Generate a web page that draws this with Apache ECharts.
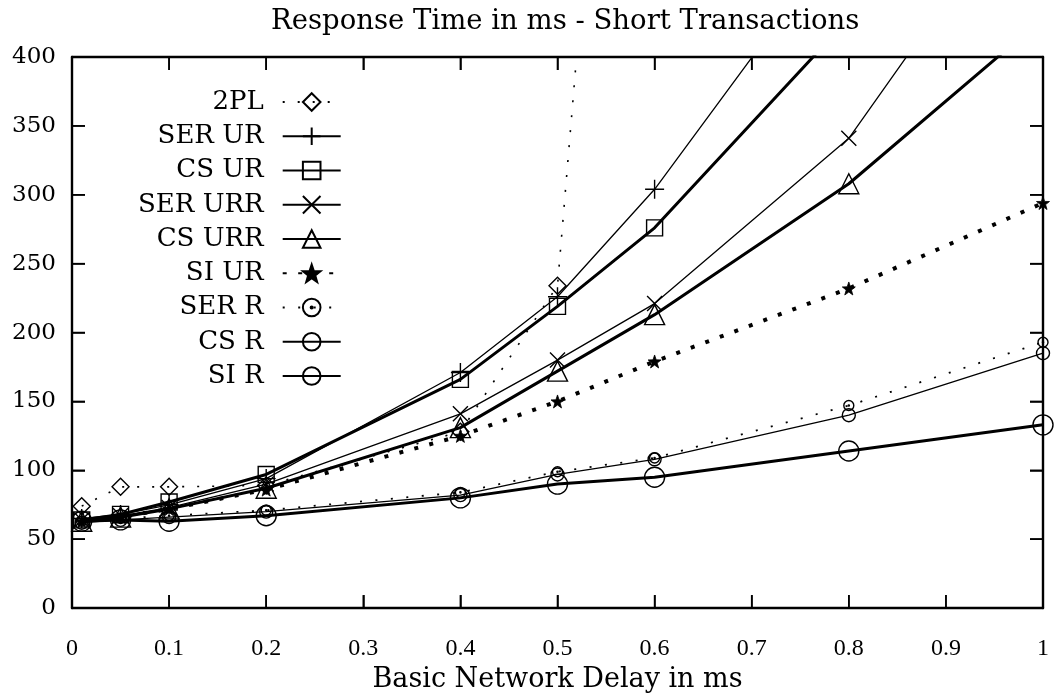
<!DOCTYPE html>
<html>
<head>
<meta charset="utf-8">
<script src="https://cdn.jsdelivr.net/npm/echarts@6/dist/echarts.min.js"></script>
<style>
html,body{margin:0;padding:0;background:#fff;}
#chart{width:1054px;height:698px;}
</style>
</head>
<body>
<div id="chart"></div>
<script>
// Network delay (ms) at which each configuration was measured
const delays = [0.01, 0.05, 0.1, 0.2, 0.4, 0.5, 0.6, 0.8, 1.0];

// Response time in ms, per protocol (values beyond 400 leave the plot)
const v2PL    = [74, 88, 88, 89, 128, 234, 1080];
const vSerUR  = [65, 68, 75, 94, 171, 226, 304, 495];
const vCsUR   = [64, 68, 77, 97, 166, 219, 276, 428];
const vSerURR = [64, 67, 73, 90, 141, 180, 221, 341, 540];
const vCsURR  = [63, 66, 72, 87, 131, 172, 213, 308, 428];
const vSiUR   = [63, 66, 72, 86, 125, 150, 179, 232, 294];
const vSerR   = [63, 65, 67, 71, 84, 99, 109, 147, 193];
const vCsR    = [62, 64, 66, 70, 82, 97, 108, 140, 185];
const vSiR    = [63, 64, 63, 67, 80, 90, 95, 114, 133];

const seriesNames = ['2PL', 'SER UR', 'CS UR', 'SER URR', 'CS URR', 'SI UR', 'SER R', 'CS R', 'SI R'];
const seriesValues = [v2PL, vSerUR, vCsUR, vSerURR, vCsURR, vSiUR, vSerR, vCsR, vSiR];

// Tick values
const xTicks = [0, 0.1, 0.2, 0.3, 0.4, 0.5, 0.6, 0.7, 0.8, 0.9, 1];
const yTicks = [0, 50, 100, 150, 200, 250, 300, 350, 400];

const SERIF = 'Liberation Serif';
const WIDE = 'DejaVu Serif';

const SYM = {
  diamond: 'path://M0,-1L1,0L0,1L-1,0Z',
  plus: 'path://M0,-1L0,1M-1,0L1,0',
  square: 'path://M-1,-1L1,-1L1,1L-1,1Z',
  cross: 'path://M-1,-1L1,1M-1,1L1,-1',
  triangle: 'path://M0,-1L1,0.8L-1,0.8Z',
  star: 'path://M0,-1L0.235,-0.324L0.951,-0.309L0.38,0.124L0.588,0.809L0,0.4L-0.588,0.809L-0.38,0.124L-0.951,-0.309L-0.235,-0.324Z',
  dotCircle: 'path://M1,0A1,1 0 1 1 -1,0A1,1 0 1 1 1,0Z M0.12,0A0.12,0.12 0 1 1 -0.12,0A0.12,0.12 0 1 1 0.12,0Z',
  circle: 'path://M1,0A1,1 0 1 1 -1,0A1,1 0 1 1 1,0Z'
};

// style per series: [symbol, symbolSize, lineWidth, lineType, filled]
const styles = [
  [SYM.diamond, 17, 1.6, [2, 13], false],
  [SYM.plus, 19, 1.3, 'solid', false],
  [SYM.square, 16, 3, 'solid', false],
  [SYM.cross, 15, 1.3, 'solid', false],
  [SYM.triangle, 20, 3, 'solid', false],
  [SYM.star, 13, 4, [4, 11.5], true],
  [SYM.dotCircle, 10, 1.8, [2, 13.5], false],
  [SYM.circle, 13, 1.3, 'solid', false],
  [SYM.circle, 20, 3, 'solid', false]
];

const series = seriesNames.map((name, i) => {
  const st = styles[i];
  return {
    name: name,
    type: 'line',
    data: seriesValues[i].map((v, k) => [delays[k], v]),
    symbol: st[0],
    symbolSize: st[1],
    showAllSymbol: true,
    clip: true,
    animation: false,
    z: 2 + i,
    lineStyle: { color: '#000', width: st[2], type: st[3], cap: 'butt' },
    itemStyle: {
      color: st[4] ? '#000' : 'none',
      borderColor: '#000',
      borderWidth: st[4] ? 0.8 : 1.4
    },
    emphasis: { disabled: true }
  };
});

const TICK_LEN = 13;
const TICK_W = 1.6;

// Tick marks on all four sides, drawn as a custom series through the axes' scales
series.push({
  type: 'custom',
  silent: true,
  animation: false,
  clip: false,
  z: 60,
  encode: { x: 0, y: 1 },
  data: xTicks.map(v => [v, yTicks[0]]),
  renderItem: function (params, api) {
    const cs = params.coordSys;
    const p = api.coord([api.value(0), api.value(1)]);
    return {
      type: 'group',
      children: [
        { type: 'rect', shape: { x: p[0] - TICK_W / 2, y: cs.y + cs.height - TICK_LEN, width: TICK_W, height: TICK_LEN }, style: { fill: '#000' } },
        { type: 'rect', shape: { x: p[0] - TICK_W / 2, y: cs.y, width: TICK_W, height: TICK_LEN }, style: { fill: '#000' } }
      ]
    };
  }
});
series.push({
  type: 'custom',
  silent: true,
  animation: false,
  clip: false,
  z: 60,
  encode: { x: 0, y: 1 },
  data: yTicks.map(v => [xTicks[0], v]),
  renderItem: function (params, api) {
    const cs = params.coordSys;
    const p = api.coord([api.value(0), api.value(1)]);
    return {
      type: 'group',
      children: [
        { type: 'rect', shape: { x: cs.x, y: p[1] - TICK_W / 2, width: TICK_LEN, height: TICK_W }, style: { fill: '#000' } },
        { type: 'rect', shape: { x: cs.x + cs.width - TICK_LEN, y: p[1] - TICK_W / 2, width: TICK_LEN, height: TICK_W }, style: { fill: '#000' } }
      ]
    };
  }
});

function axisCommon(mirror) {
  const line = { show: true, lineStyle: { color: '#000', width: 2.4 } };
  if (mirror) line.onZero = false;
  return {
    axisLine: line,
    axisTick: { show: true, inside: true, length: TICK_LEN, lineStyle: { color: '#000', width: 1.5 } },
    splitLine: { show: false }
  };
}

const chart = echarts.init(document.getElementById('chart'), null, { renderer: 'canvas' });
chart.setOption({
  backgroundColor: '#fff',
  animation: false,
  title: {
    text: 'Response Time in ms - Short Transactions',
    left: 266,
    top: 3,
    textStyle: { fontFamily: WIDE, fontSize: 27.5, fontWeight: 'normal', color: '#000' }
  },
  grid: { left: 72, right: 11, top: 57, bottom: 89 },
  legend: {
    data: seriesNames,
    orient: 'vertical',
    align: 'right',
    left: 133,
    top: 84,
    itemWidth: 58,
    itemHeight: 22,
    itemGap: 8.25,
    selectedMode: false,
    textStyle: { fontFamily: WIDE, fontSize: 26, color: '#000', padding: [0, 14, 0, 0] }
  },
  xAxis: [
    Object.assign({
      type: 'value', min: xTicks[0], max: xTicks[xTicks.length - 1], interval: 0.1,
      name: 'Basic Network Delay in ms',
      nameLocation: 'middle', nameGap: 45,
      nameTextStyle: { fontFamily: WIDE, fontSize: 27, color: '#000' },
      axisLabel: { fontFamily: SERIF, fontSize: 24, color: '#000', margin: 29 }
    }, axisCommon(false)),
    Object.assign({
      type: 'value', min: xTicks[0], max: xTicks[xTicks.length - 1], interval: 0.1, position: 'top',
      axisLabel: { show: false }
    }, axisCommon(true))
  ],
  yAxis: [
    Object.assign({
      type: 'value', min: yTicks[0], max: yTicks[yTicks.length - 1], interval: 50,
      axisLabel: { fontFamily: WIDE, fontSize: 23, color: '#000', margin: 16 }
    }, axisCommon(false)),
    Object.assign({
      type: 'value', min: yTicks[0], max: yTicks[yTicks.length - 1], interval: 50, position: 'right',
      axisLabel: { show: false }
    }, axisCommon(true))
  ],
  series: series
});
</script>
</body>
</html>
